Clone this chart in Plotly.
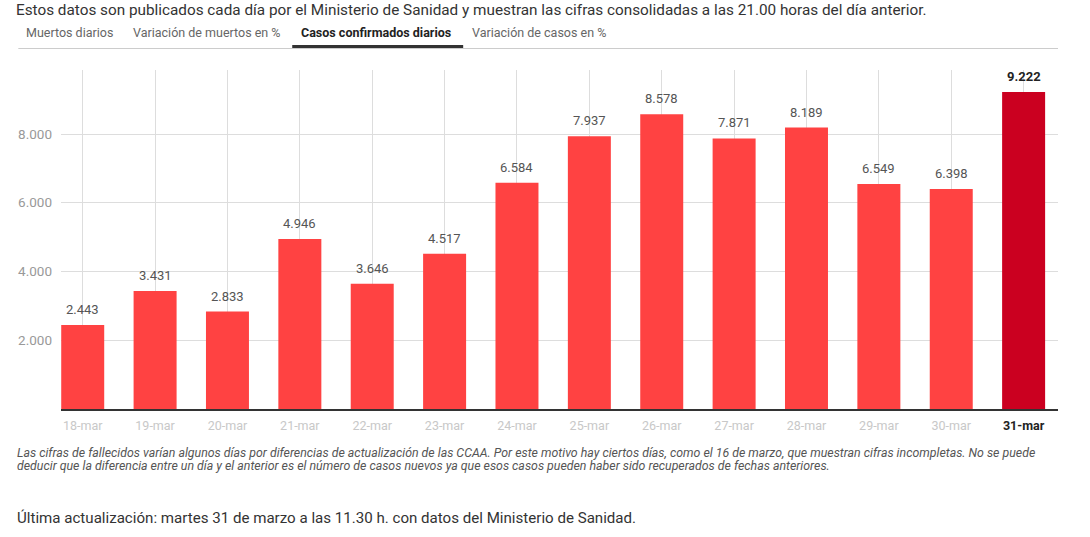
import plotly.graph_objects as go

dates = ["18-mar", "19-mar", "20-mar", "21-mar", "22-mar", "23-mar", "24-mar",
         "25-mar", "26-mar", "27-mar", "28-mar", "29-mar", "30-mar", "31-mar"]
cases = [2443, 3431, 2833, 4946, 3646, 4517, 6584, 7937, 8578, 7871, 8189, 6549, 6398, 9222]
value_labels = ["2.443", "3.431", "2.833", "4.946", "3.646", "4.517", "6.584",
                "7.937", "8.578", "7.871", "8.189", "6.549", "6.398", "9.222"]
y_ticks = [2000, 4000, 6000, 8000]
y_tick_labels = ["2.000", "4.000", "6.000", "8.000"]
tabs = ["Muertos diarios", "Variación de muertos en %", "Casos confirmados diarios", "Variación de casos en %"]

W, H = 1090, 537
L, R, T, B = 60.7, 1058, 70, 409
FONT = "Roboto"


def px(x):
    return (x - L) / (R - L)


def py(y):
    return (B - y) / (B - T)


colors = ["#ff4242"] * (len(dates) - 1) + ["#cb0020"]

fig = go.Figure()
fig.add_trace(go.Bar(
    x=dates, y=cases, marker=dict(color=colors, line=dict(width=0)),
    hoverinfo="skip", showlegend=False,
))

ticktext = [f"<span style='color:#c8c8c8'>{d}</span>" for d in dates[:-1]]
ticktext.append(f"<b><span style='color:#222'>{dates[-1]}</span></b>")

annotations = []
for i, (d, v, lab) in enumerate(zip(dates, cases, value_labels)):
    last = i == len(dates) - 1
    annotations.append(dict(
        x=d, y=v, xref="x", yref="y", text=f"<b>{lab}</b>" if last else lab,
        showarrow=False, yanchor="bottom", yshift=6,
        font=dict(family=FONT, size=13, color="#222" if last else "#555"),
    ))

header = "Estos datos son publicados cada día por el Ministerio de Sanidad y muestran las cifras consolidadas a las 21.00 horas del día anterior."
annotations.append(dict(xref="paper", yref="paper", x=px(14), y=py(10.5), xanchor="left", yanchor="middle",
                        text=header, showarrow=False, font=dict(family=FONT, size=15.3, color="#333")))

tab_x = [24, 131, 299, 470]
for i, (t, x0) in enumerate(zip(tabs, tab_x)):
    active = i == 2
    annotations.append(dict(xref="paper", yref="paper", x=px(x0), y=py(33), xanchor="left", yanchor="middle",
                            text=f"<b>{t}</b>" if active else t, showarrow=False,
                            font=dict(family=FONT, size=12.5, color="#222" if active else "#666")))

foot1 = ("Las cifras de fallecidos varían algunos días por diferencias de actualización de las CCAA. Por este motivo hay ciertos días, "
         "como el 16 de marzo, que muestran cifras incompletas. No se puede")
foot2 = ("deducir que la diferencia entre un día y el anterior es el número de casos nuevos ya que esos casos pueden haber sido "
         "recuperados de fechas anteriores.")
for yy, t in [(453, foot1), (466, foot2)]:
    annotations.append(dict(xref="paper", yref="paper", x=px(15), y=py(yy), xanchor="left", yanchor="middle",
                            text=f"<i>{t}</i>", showarrow=False,
                            font=dict(family=FONT, size=12.35, color="#555")))

annotations.append(dict(xref="paper", yref="paper", x=px(15), y=py(518), xanchor="left", yanchor="middle",
                        text="Última actualización: martes 31 de marzo a las 11.30 h. con datos del Ministerio de Sanidad.",
                        showarrow=False, font=dict(family=FONT, size=15.1, color="#333")))

shapes = [
    dict(type="line", xref="paper", yref="paper", x0=px(18), x1=px(1058), y0=py(48.5), y1=py(48.5),
         line=dict(color="#cccccc", width=1)),
    dict(type="rect", xref="paper", yref="paper", x0=px(292), x1=px(463), y0=py(48), y1=py(45),
         fillcolor="#333333", line=dict(width=0)),
]

fig.update_layout(
    width=W, height=H,
    margin=dict(l=L, r=W - R, t=T, b=H - B, pad=0),
    paper_bgcolor="white", plot_bgcolor="white",
    bargap=0.406,
    annotations=annotations, shapes=shapes,
    font=dict(family=FONT),
    xaxis=dict(
        type="category", range=[-0.3, 13.475],
        tickvals=dates, ticktext=ticktext,
        showgrid=True, gridcolor="#dddddd", gridwidth=1,
        showline=True, linecolor="#333", linewidth=1.5,
        ticks="", tickfont=dict(family=FONT, size=12.5, color="#c8c8c8"),
        ticklabelstandoff=4,
        fixedrange=True,
    ),
    yaxis=dict(
        range=[0, (B - T) / ((B - 134) / 8000)],
        tickvals=y_ticks, ticktext=y_tick_labels,
        showgrid=True, gridcolor="#dddddd", gridwidth=1,
        zeroline=False, showline=False,
        ticks="", tickfont=dict(family=FONT, size=13.5, color="#999"),
        ticklabelstandoff=8,
        fixedrange=True,
    ),
)

fig.write_html("out.html", config={"displayModeBar": False},
               post_script="document.body.style.margin='0';document.body.style.overflow='hidden';")
